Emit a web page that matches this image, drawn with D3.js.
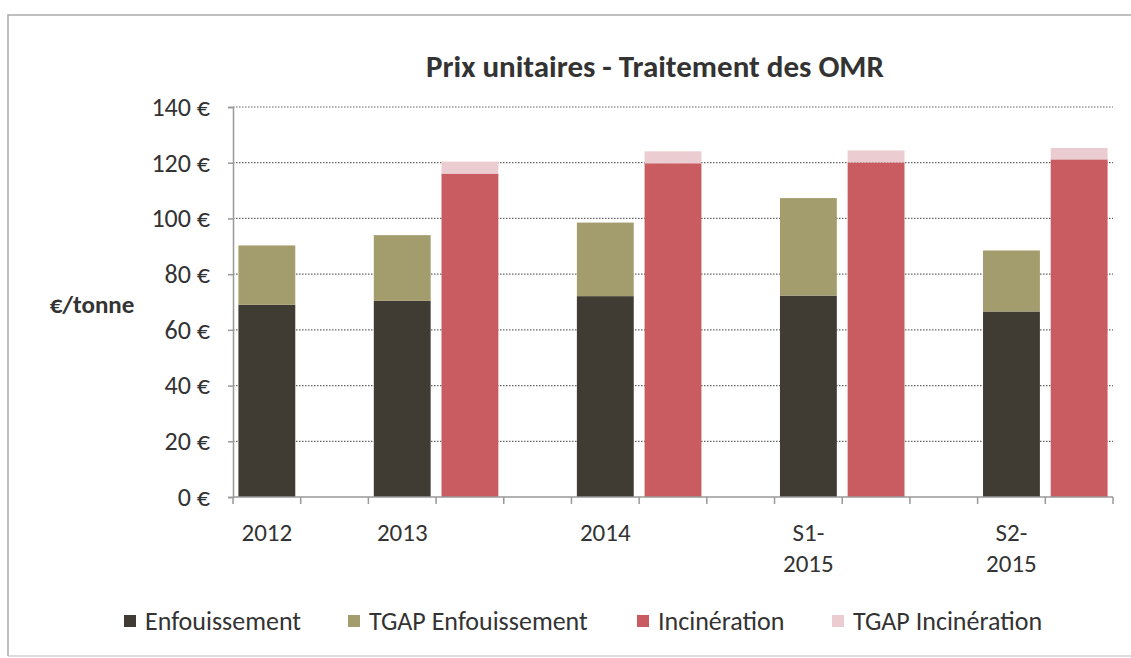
<!DOCTYPE html>
<html>
<head>
<meta charset="utf-8">
<script src="https://cdn.jsdelivr.net/npm/d3@7"></script>
<style>
  body { margin: 0; background: #fff; }
  text { font-family: Carlito, Lato, "Open Sans", sans-serif; fill: #333; }
</style>
</head>
<body>
<div id="chart"></div>
<script>
// données
const periods = ["2012", "2013", "2014", "S1-2015", "S2-2015"];
const enfouissement = [69, 70.4, 72.1, 72.3, 66.6];
const tgapEnfouissement = [21.3, 23.6, 26.4, 35.0, 21.9];
const incineration = [null, 116.1, 119.8, 120.1, 121.2];
const tgapIncineration = [null, 4.3, 4.3, 4.3, 4.1];
const slots = ["2012|E", "2012|I", "2013|E", "2013|I", "gap1", "2014|E", "2014|I", "gap2",
    "S1-2015|E", "S1-2015|I", "gap3", "S2-2015|E", "S2-2015|I"];
const yTicks = [0, 20, 40, 60, 80, 100, 120, 140];
const seriesNames = ["Enfouissement", "TGAP Enfouissement", "Incinération", "TGAP Incinération"];
const colors = ["#403c33", "#a39c6c", "#c95c60", "#ebccd0"];

const width = 1131;
const height = 658;
const plotLeft = 233, plotRight = 1113, plotTop = 107, plotBottom = 497;

const svg = d3.select('#chart').append('svg')
    .attr('width', width)
    .attr('height', height)

// cadre du graphique
svg.append('path')
    .attr('d', `M8,${height - 2} V15 H${width}`)
    .attr('fill', 'none')
    .attr('stroke', '#aaa')
    .attr('stroke-width', 1.5)
svg.append('line')
    .attr('x1', 8).attr('x2', width)
    .attr('y1', height - 2).attr('y2', height - 2)
    .attr('stroke', '#bbb')

const x = d3.scaleBand()
    .domain(slots)
    .range([plotLeft, plotRight])
    .paddingInner(0.16)
    .paddingOuter(0.08)
const y = d3.scaleLinear()
    .domain([0, 140])
    .range([plotBottom, plotTop])

// grille pointillée
svg.append('g')
    .selectAll('line')
    .data(yTicks.slice(1))
    .join('line')
    .attr('x1', plotLeft)
    .attr('x2', plotRight)
    .attr('y1', d => y(d))
    .attr('y2', d => y(d))
    .attr('stroke', '#666')
    .attr('stroke-width', 1.2)
    .attr('stroke-dasharray', '1.5,1.5')

// barres empilées
const rows = [];
periods.forEach((p, i) => {
    rows.push({ slot: p + '|E', parts: [enfouissement[i], tgapEnfouissement[i]], colors: [colors[0], colors[1]] })
    if (incineration[i] != null)
        rows.push({ slot: p + '|I', parts: [incineration[i], tgapIncineration[i]], colors: [colors[2], colors[3]] })
})
rows.forEach(r => {
    let base = 0;
    r.parts.forEach((v, k) => {
        svg.append('rect')
            .attr('x', x(r.slot))
            .attr('width', x.bandwidth())
            .attr('y', y(base + v))
            .attr('height', y(base) - y(base + v))
            .attr('fill', r.colors[k])
        base += v;
    })
})

// axe des y
const yAxis = svg.append('g')
    .attr('transform', `translate(${plotLeft},0)`)
    .call(d3.axisLeft(y).tickValues(yTicks).tickSize(5).tickPadding(18).tickFormat(d => `${d} €`))
yAxis.select('.domain').attr('stroke', '#999').attr('stroke-width', 1.5)
yAxis.selectAll('.tick line').attr('stroke', '#999').attr('stroke-width', 1.5)
yAxis.selectAll('.tick text').attr('font-size', 26).attr('fill', '#333')
    .attr('font-family', 'Carlito, Lato, sans-serif')

// axe des x : repères entre chaque emplacement
const step = x.step();
const boundaries = slots.map(s => x(s) - step * 0.08).concat([plotRight]);
svg.append('line')
    .attr('x1', plotLeft).attr('x2', plotRight)
    .attr('y1', plotBottom).attr('y2', plotBottom)
    .attr('stroke', '#999').attr('stroke-width', 1.5)
svg.append('g')
    .selectAll('line')
    .data(boundaries)
    .join('line')
    .attr('x1', d => d).attr('x2', d => d)
    .attr('y1', plotBottom).attr('y2', plotBottom + 7)
    .attr('stroke', '#999').attr('stroke-width', 1.5)

// étiquettes des périodes
periods.forEach(p => {
    const cx = x(p + '|E') + x.bandwidth() / 2;
    const parts = p.startsWith('S') ? [p.slice(0, 3), p.slice(3)] : [p];
    const t = svg.append('text')
        .attr('x', cx)
        .attr('y', 541)
        .attr('text-anchor', 'middle')
        .attr('font-size', 25)
    parts.forEach((s, i) => {
        t.append('tspan').attr('x', cx).attr('dy', i === 0 ? 0 : 31).text(s)
    })
})

// titre
svg.append('text')
    .attr('x', 655)
    .attr('y', 77)
    .attr('text-anchor', 'middle')
    .attr('font-size', 31)
    .attr('font-weight', 'bold')
    .text('Prix unitaires - Traitement des OMR')

svg.append('text')
    .attr('x', 92)
    .attr('y', 313)
    .attr('text-anchor', 'middle')
    .attr('font-size', 25)
    .attr('font-weight', 'bold')
    .text('€/tonne')

// légende
const legendX = [124, 348, 637, 832];
const legend = svg.append('g')
seriesNames.forEach((n, i) => {
    legend.append('rect')
        .attr('x', legendX[i])
        .attr('y', 615)
        .attr('width', 12)
        .attr('height', 12)
        .attr('fill', colors[i])
    legend.append('text')
        .attr('x', legendX[i] + 21)
        .attr('y', 630)
        .attr('font-size', 26)
        .text(n)
})
</script>
</body>
</html>
